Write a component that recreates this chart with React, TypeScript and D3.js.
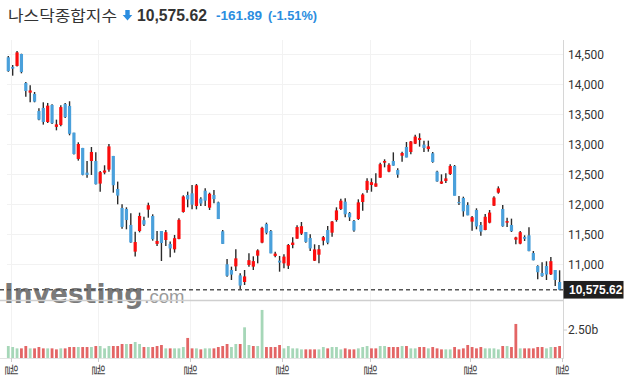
import React from "react";
import * as d3 from "d3";

// Nasdaq Composite daily candles, 2022-03-31 .. 2022-09-30
const openV = [14450,14290,14306,14505,14022,13861,13839,13556,13606,13372,13656,13290,13322,13672,13639,13194,12756,12939,12528,12722,12722,
  12345,12528,12578,12806,12256,11939,11922,11656,11211,11555,11735,11911,11805,11340,11555,11405,11339,11250,11422,11872,12155,
  12183,11972,12094,12227,11944,12155,12033,11550,11000,10905,10966,10816,10705,10988,10961,11144,11361,11672,11555,11139,11061,
  11016,10977,11322,11427,11511,11538,11438,11060,11160,11394,11572,11527,11738,11922,12044,11855,11722,11755,12038,12238,
  12322,12294,12444,12694,12544,12722,12572,12810,12955,12872,13010,13072,12994,12922,12850,12544,12344,12388,12505,12638,12038,12105,11988,
  11711,11905,11655,11572,11694,11977,12194,11922,11694,11655,11410,11344,11455,11483,11188,10972,10855,10972,10833,10905,10705];
const highV = [14472,14322,14555,14510,14039,13983,13872,13600,13700,13689,13667,13411,13650,13690,13717,13194,13033,12940,12722,12955,12867,
  12555,12650,13006,12806,12378,12000,11950,11850,11544,11861,11794,12027,11833,11555,11555,11572,11378,11489,11766,12150,12211,
  12322,12338,12116,12266,12194,12238,12044,11572,11088,10961,11250,10850,10905,11183,11133,11250,11627,11694,11572,11211,11139,
  11166,11338,11449,11650,11705,11538,11500,11333,11322,11472,11638,11722,11950,12094,12100,11872,11738,12083,12183,12433,
  12433,12516,12694,12750,12683,12866,12600,12877,13038,13055,13160,13183,13061,13061,12872,12561,12499,12516,12666,12655,12138,12127,12033,
  11805,11933,11705,11838,11905,12133,12299,11988,11777,11761,11460,11555,11483,11616,11222,10983,11033,11050,11122,10905,10900];
const lowV = [14210,14144,14295,14183,13794,13700,13700,13400,13328,13355,13340,13233,13300,13440,13150,12828,12728,12483,12444,12489,12328,
  12211,12500,12544,12194,12000,11594,11583,11361,11128,11533,11639,11777,11394,11305,11055,11305,11116,11194,11416,11861,11950,
  11916,11916,11972,11972,11905,12016,11755,11339,10794,10738,10889,10572,10655,10961,10905,11016,11350,11500,11183,11116,10877,
  10933,10922,11266,11427,11488,11360,11222,11055,11016,11316,11333,11460,11710,11905,11783,11722,11544,11738,11894,12194,
  12210,12294,12444,12616,12533,12644,12444,12710,12783,12833,13005,12961,12872,12877,12694,12377,12338,12355,12488,12149,11988,11794,11816,
  11561,11583,11477,11566,11683,11972,12177,11627,11622,11538,11333,11333,11388,11216,11066,10749,10794,10738,10822,10638,10566];
const closeV = [14220,14261,14532,14204,13888,13897,13711,13412,13372,13644,13351,13332,13620,13453,13175,12839,13005,12491,12489,12872,12335,
  12536,12564,12965,12318,12145,11623,11738,11364,11371,11805,11663,11985,11418,11389,11355,11535,11264,11435,11741,12131,12081,
  11994,12317,12013,12061,12175,12086,11754,11340,10809,10828,11099,10646,10798,11069,11053,11232,11608,11525,11182,11178,11029,
  11128,11322,11362,11621,11635,11373,11265,11248,11251,11452,11360,11713,11898,12060,11834,11783,11563,12032,12163,12391,
  12369,12349,12668,12721,12658,12644,12494,12855,12780,13047,13128,13103,12938,12965,12705,12382,12381,12432,12639,12142,12018,11883,11816,
  11785,11631,11545,11792,11862,12112,12266,11634,11720,11552,11448,11535,11425,11220,11067,10868,10803,10830,11052,10738,10575.62];
// volume (billions)
const volumeV = [1.07,0.98,0.86,0.86,1.07,0.86,0.86,0.98,0.86,0.86,0.86,0.77,0.86,0.86,0.98,0.98,0.98,0.98,0.98,0.98,1.07,
  1.07,0.86,1.07,1.07,1.07,1.25,1.25,1.25,1.43,1.25,0.98,0.98,0.98,1.07,1.16,0.86,0.86,0.86,0.86,0.98,1.79,
  0.86,0.86,0.77,0.86,0.86,0.86,0.98,1.07,1.25,0.98,1.25,1.25,2.74,1.16,1.07,1.07,4.29,0.98,0.98,0.98,1.16,
  0.86,1.07,0.86,0.86,0.77,0.77,0.77,0.77,0.77,0.98,0.86,0.98,0.98,0.77,0.86,0.77,0.77,0.86,0.98,1.07,
  0.86,0.86,1.07,1.07,0.98,0.98,0.98,1.07,1.07,0.86,0.86,0.98,0.98,0.86,0.98,0.86,0.77,0.77,0.77,0.98,0.77,0.86,1.16,
  0.98,0.86,0.98,0.86,0.86,0.86,0.77,1.07,1.07,0.98,3.04,0.86,0.86,0.86,0.86,0.98,0.98,0.86,0.98,0.98,1.07];

const priceTicks = [11000, 11500, 12000, 12500, 13000, 13500, 14000, 14500];
const volumeTicks = [2.5];
const monthTickIdx = [1, 21, 42, 63, 83, 106, 127];
const monthLabel = "월";

const title = "나스닥종합지수";
const lastPrice = "10,575.62";
const change = "-161.89";
const changePct = "(-1.51%)";

const UP = "#fb0d0d";
const DOWN = "#4aa0db";
const VUP = "#a6d7b8";
const VDOWN = "#e36565";

export default function App() {
  const n = closeV.length;
  const x = d3.scaleLinear().domain([0, n - 1]).range([8.3, 559.6]);
  const y = d3.scaleLinear().domain([10500, 14500]).range([294.3, 54.3]);
  const yv = d3.scaleLinear().domain([0, 2.5]).range([358, 330]);
  const fmt = d3.format(",");
  const axisX = 563.5;
  const bw = 3.2;
  const lastY = y(closeV[n - 1]);

  return (
    <svg width={630} height={387} style={{ position: "absolute", left: 0, top: 0, background: "#fff" }}
      fontFamily="Roboto, 'Liberation Sans', sans-serif">
      <rect x={0} y={0} width={630} height={387} fill="#fff" />
      {/* header */}
      <text x={8} y={21} fontFamily="'Noto Sans CJK KR', sans-serif" fontSize={15} fill="#333" textLength={109} lengthAdjust="spacingAndGlyphs">{title}</text>
      <path d="M125.3,10 H129.7 V15 H132.3 L127.5,20.5 L122.7,15 H125.3 Z" fill="#2b8de0" />
      <text x={137} y={20.5} fontFamily="'Liberation Sans', Arial, sans-serif" fontWeight="bold" fontSize={15.8} fill="#333" textLength={70} lengthAdjust="spacingAndGlyphs">{lastPrice}</text>
      <text x={216} y={20} fontFamily="'Liberation Sans', Arial, sans-serif" fontWeight="bold" fontSize={13.4} fill="#2b8de0" textLength={46} lengthAdjust="spacingAndGlyphs">{change}</text>
      <text x={268} y={20} fontFamily="'Liberation Sans', Arial, sans-serif" fontWeight="bold" fontSize={12.8} fill="#2b8de0" textLength={49} lengthAdjust="spacingAndGlyphs">{changePct}</text>

      {/* grid */}
      {priceTicks.map((t) => (
        <line key={"g" + t} x1={7} x2={axisX} y1={Math.round(y(t)) + 0.5} y2={Math.round(y(t)) + 0.5} stroke="#f2f2f2" />
      ))}
      {monthTickIdx.slice(0, -1).map((i) => (
        <line key={"vg" + i} x1={Math.round(x(i) - 1.7) + 0.5} x2={Math.round(x(i) - 1.7) + 0.5} y1={40} y2={358} stroke="#f2f2f2" />
      ))}

      {/* logo */}
      <text x={4} y={303}>
        <tspan fontFamily="'DejaVu Sans', sans-serif" fontWeight="bold" fontSize={26.5} fill="#7a7a7a">Investing</tspan>
        <tspan dx={1} fontFamily="'Liberation Sans', Arial, sans-serif" fontSize={18.5} fill="#9a9a9a">.com</tspan>
      </text>

      {/* candles */}
      {closeV.map((c, i) => {
        const o = openV[i];
        const up = c >= o;
        const top = y(Math.max(o, c));
        const h = Math.max(1.2, Math.abs(y(o) - y(c)));
        return (
          <g key={"c" + i}>
            <line x1={x(i)} x2={x(i)} y1={y(highV[i])} y2={y(lowV[i])} stroke="#2a2a2a" strokeWidth={1.4} />
            <rect x={x(i) - bw / 2} y={top} width={bw} height={h} fill={up ? UP : DOWN} />
          </g>
        );
      })}

      {/* last price dashed line */}
      <line x1={0} x2={axisX} y1={lastY} y2={lastY} stroke="#555" strokeWidth={1.3} strokeDasharray="4,3" />

      {/* panel separators & axes */}
      <line x1={0} x2={axisX} y1={300.5} y2={300.5} stroke="#cfcfcf" strokeWidth={1.4} />
      <line x1={axisX} x2={axisX} y1={40} y2={359} stroke="#d6d6d6" />
      <line x1={0} x2={axisX} y1={358.5} y2={358.5} stroke="#e2e2e2" />

      {/* volume */}
      {volumeV.map((v, i) => {
        const upv = i === 0 ? true : closeV[i] >= closeV[i - 1];
        return <rect key={"v" + i} x={x(i) - 1.4} y={yv(v)} width={2.8} height={yv(0) - yv(v)} fill={upv ? VUP : VDOWN} />;
      })}

      {/* price axis labels */}
      {priceTicks.map((t) => (
        <text key={"l" + t} x={568} y={y(t)} dy="0.35em" fontSize={12} fill="#333">{fmt(t)}</text>
      ))}
      {volumeTicks.map((t) => (
        <g key={"vt" + t}>
          <line x1={axisX} x2={567} y1={yv(t)} y2={yv(t)} stroke="#ccc" />
          <text x={568} y={yv(t)} dy="0.35em" fontSize={12} fill="#333">{t.toFixed(2) + "b"}</text>
        </g>
      ))}
      <rect x={563.5} y={lastY - 8.8} width={60} height={17.6} fill="#1f1f1f" />
      <text x={569} y={lastY} dy="0.36em" fontSize={12} fontWeight="bold" fill="#fff" fontFamily="'Liberation Sans', Arial, sans-serif">{lastPrice}</text>

      {/* month ticks */}
      {monthTickIdx.map((i) => {
        const xx = Math.round(x(i) - 1.7) + 0.5;
        return (
          <g key={"m" + i}>
            <line x1={xx} x2={xx} y1={358} y2={362} stroke="#ccc" />
            <text transform={`translate(${xx},364) rotate(90)`} dy="0.35em" fontSize={13}
              fontFamily="'Noto Sans CJK KR', sans-serif" fill="#444">{monthLabel}</text>
          </g>
        );
      })}
    </svg>
  );
}
